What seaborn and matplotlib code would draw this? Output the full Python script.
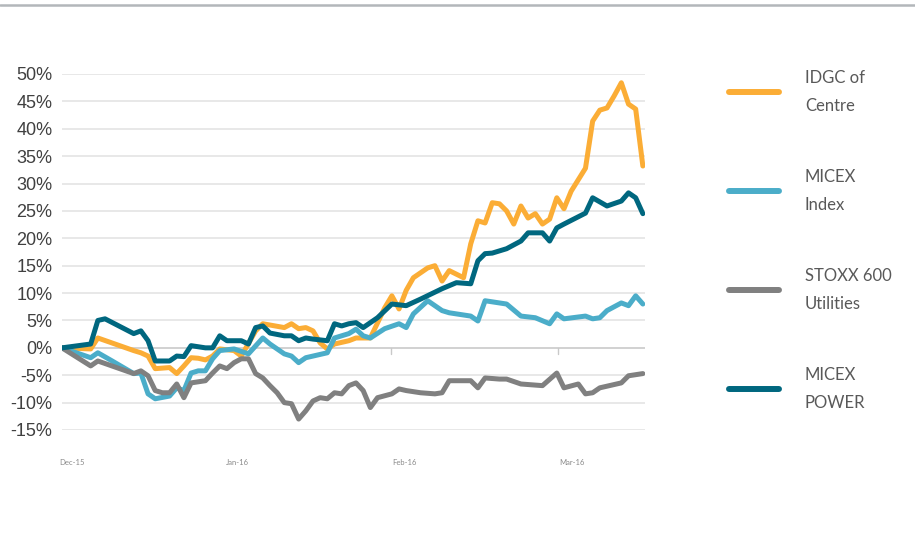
import matplotlib
matplotlib.use("Agg")
import matplotlib.pyplot as plt
from matplotlib.lines import Line2D
import pandas as pd
import seaborn as sns

# ---------------- data (trading-day index, % change) ----------------
series_names = ["IDGC of\nCentre", "MICEX\nIndex", "STOXX 600\nUtilities", "MICEX\nPOWER"]
series_colors = ["#FBAD36", "#4BADC9", "#808080", "#00677F"]

idgc_days = [0, 4, 5, 10, 11, 12, 13, 15, 16, 17, 18, 19, 20, 21, 22, 24, 25, 27, 28, 31,
             32, 33, 34, 35, 36, 37, 38, 40, 41, 43, 45, 46, 47, 48, 49, 51, 52, 53, 54, 56,
             57, 58, 59, 60, 61, 62, 63, 64, 65, 66, 67, 68, 69, 70, 71, 73, 74, 75, 76, 77,
             78, 79, 80, 81]
idgc_vals = [0, -0.2, 1.8, -0.5, -0.9, -1.5, -3.8, -3.6, -4.7, -3.3, -1.8, -1.9, -2.2, -1.5, -0.2, -0.5, -1.5, 3.1, 4.4, 3.7,
             4.4, 3.5, 3.7, 3.1, 0.9, -0.2, 0.7, 1.3, 1.8, 1.8, 7.3, 9.5, 7.1, 10.5, 12.8, 14.6, 15.0, 12.2, 14.1, 12.8,
             19.0, 23.2, 22.8, 26.5, 26.3, 25.0, 22.6, 25.9, 23.7, 24.5, 22.6, 23.5, 27.4, 25.4, 28.6, 32.8, 41.4, 43.4, 43.8, 46.0,
             48.4, 44.5, 43.6, 33.2]

micex_days = [0, 2, 4, 5, 7, 10, 11, 12, 13, 15, 16, 17, 18, 19, 20, 21, 22, 24, 26, 28,
              29, 31, 32, 33, 34, 35, 37, 38, 40, 41, 42, 43, 45, 47, 48, 49, 51, 53, 54, 57,
              58, 59, 61, 62, 64, 66, 68, 69, 70, 73, 74, 75, 76, 78, 79, 80, 81]
micex_vals = [0, -0.9, -1.8, -0.9, -2.4, -4.7, -4.6, -8.4, -9.3, -8.8, -7.3, -7.8, -4.6, -4.2, -4.2, -2.0, -0.5, -0.2, -1.1, 1.8,
              0.7, -1.1, -1.5, -2.7, -1.8, -1.5, -0.9, 1.8, 2.6, 3.4, 2.2, 1.8, 3.5, 4.4, 3.7, 6.2, 8.6, 6.8, 6.4, 5.8,
              4.9, 8.6, 8.2, 8.0, 5.8, 5.5, 4.4, 6.2, 5.3, 5.8, 5.3, 5.5, 6.8, 8.2, 7.7, 9.5, 8.0]

stoxx_days = [0, 4, 5, 10, 11, 12, 13, 14, 15, 16, 17, 18, 20, 21, 22, 23, 24, 25, 26, 27,
              28, 29, 30, 31, 32, 33, 34, 35, 36, 37, 38, 39, 40, 41, 42, 43, 44, 46, 47, 48,
              50, 52, 53, 54, 57, 58, 59, 61, 62, 64, 67, 69, 70, 72, 73, 74, 75, 78, 79, 81]
stoxx_vals = [0, -3.3, -2.4, -4.7, -4.2, -5.1, -7.8, -8.2, -8.2, -6.6, -9.1, -6.4, -6.0, -4.6, -3.3, -3.8, -2.7, -2.0, -2.0, -4.7,
              -5.5, -6.9, -8.2, -10.0, -10.2, -13.0, -11.5, -9.7, -9.1, -9.3, -8.2, -8.4, -6.9, -6.4, -7.8, -10.9, -9.1, -8.4, -7.5, -7.8,
              -8.2, -8.4, -8.2, -6.0, -6.0, -7.3, -5.5, -5.7, -5.7, -6.6, -6.9, -4.6, -7.3, -6.6, -8.4, -8.2, -7.3, -6.4, -5.1, -4.7]

power_days = [0, 4, 5, 6, 10, 11, 12, 13, 15, 16, 17, 18, 20, 21, 22, 23, 25, 26, 27, 28,
              29, 31, 32, 33, 34, 35, 37, 38, 39, 40, 41, 42, 44, 46, 48, 50, 53, 55, 57, 58,
              59, 60, 62, 64, 65, 67, 68, 69, 70, 73, 74, 76, 78, 79, 80, 81]
power_vals = [0, 0.7, 5.0, 5.3, 2.6, 3.1, 1.3, -2.4, -2.4, -1.5, -1.6, 0.4, 0.0, 0.0, 2.2, 1.3, 1.3, 0.7, 3.7, 4.0,
              2.7, 2.2, 2.2, 1.3, 1.8, 1.6, 1.3, 4.4, 4.0, 4.4, 4.6, 3.7, 5.5, 8.0, 7.7, 8.9, 10.8, 11.9, 11.7, 15.9,
              17.2, 17.3, 18.1, 19.5, 21.0, 21.0, 19.5, 21.9, 22.6, 24.6, 27.4, 25.9, 26.8, 28.3, 27.4, 24.5]

y_ticks = [50, 45, 40, 35, 30, 25, 20, 15, 10, 5, 0, -5, -10, -15]
y_tick_labels = ["50%", "45%", "40%", "35%", "30%", "25%", "20%", "15%", "10%", "5%", "0%", "-5%", "-10%", "-15%"]
month_labels = ["Dec-15", "Jan-16", "Feb-16", "Mar-16"]
month_label_days = [1.4, 24.4, 47.7, 71.1]
month_tick_days = [45.9, 69.2]

# ---------------- frame ----------------
frames = []
for name, d, v in zip(series_names,
                      [idgc_days, micex_days, stoxx_days, power_days],
                      [idgc_vals, micex_vals, stoxx_vals, power_vals]):
    frames.append(pd.DataFrame({"day": d, "value": v, "series": name}))
df = pd.concat(frames, ignore_index=True)

# ---------------- style ----------------
sns.set_theme(style="white")
plt.rcParams["font.family"] = ["Liberation Sans", "DejaVu Sans"]
plt.rcParams["lines.solid_joinstyle"] = "round"
plt.rcParams["lines.solid_capstyle"] = "round"

fig = plt.figure(figsize=(9.15, 5.37), dpi=100)
ax = fig.add_axes([62 / 915, 1 - 430 / 537, (645 - 62) / 915, (430 - 74) / 537])

for yv in y_ticks:
    if yv != 0:
        ax.axhline(yv, color="#e4e4e4", lw=1.2, zorder=0)
ax.axhline(0, color="#c9c9c9", lw=1.2, zorder=0.5)
for td in month_tick_days:
    ax.plot([td, td], [0, -1.1], color="#c9c9c9", lw=1.0, zorder=0.5)

sns.lineplot(data=df, x="day", y="value", hue="series", hue_order=series_names,
             palette=series_colors, estimator=None, sort=True, linewidth=3.6,
             legend=False, ax=ax)

ax.set_xlim(0, 81.3)
ax.set_ylim(-15, 50)
for s in ax.spines.values():
    s.set_visible(False)
ax.set_xlabel("")
ax.set_ylabel("")

ax.set_yticks(y_ticks)
ax.set_yticklabels(y_tick_labels, fontsize=13, color="#404040")
ax.tick_params(axis="y", length=0, pad=7)

ax.set_xticks(month_label_days)
ax.set_xticklabels(month_labels, fontsize=5.5, color="#8a8a8a", family=["Lato", "DejaVu Sans"])
ax.tick_params(axis="x", length=0, pad=21)

# ---------------- legend ----------------
legend_y_px = [92, 191, 290, 389]
for name, col, ypx in zip(series_names, series_colors, legend_y_px):
    yf = 1 - ypx / 537
    fig.add_artist(Line2D([729 / 915, 779 / 915], [yf, yf], transform=fig.transFigure,
                          color=col, lw=4.3, solid_capstyle="round"))
    fig.text(805 / 915, yf, name, fontsize=12, color="#595959", va="center", ha="left",
             linespacing=1.85, family=["Lato", "DejaVu Sans"])

# top rule
fig.add_artist(Line2D([0, 1], [1 - 5 / 537, 1 - 5 / 537], transform=fig.transFigure,
                      color="#b3b7ba", lw=1.8))

fig.savefig("out.png", dpi=100, facecolor="white")
